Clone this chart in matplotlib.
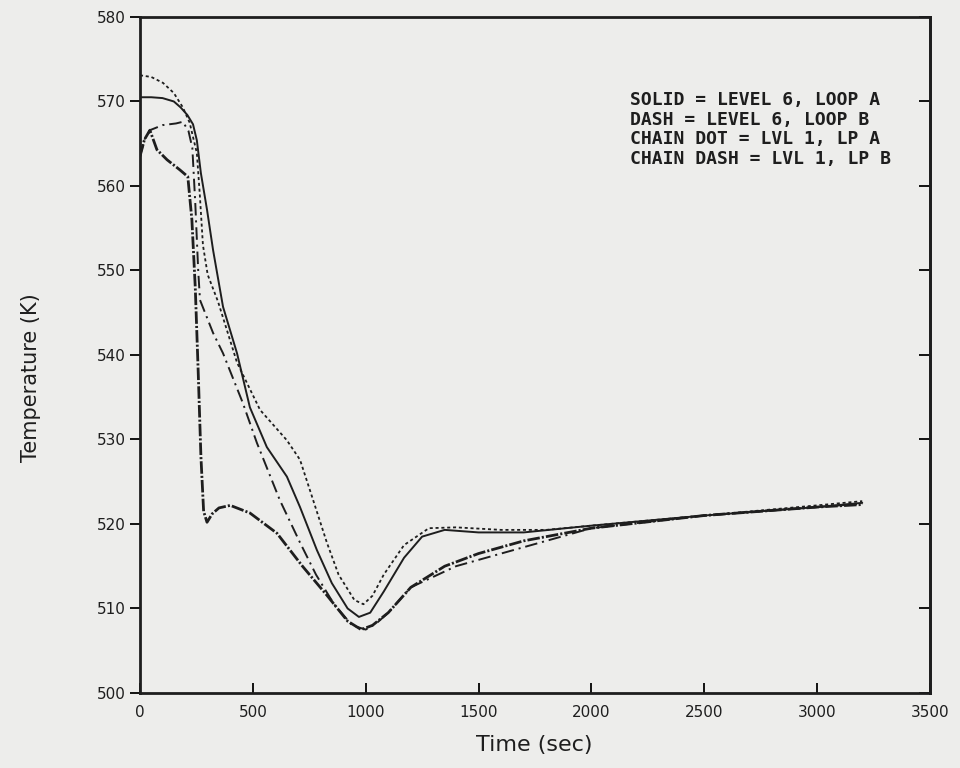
"""Coolant temperature transient, level 6 vs level 1 loops."""

import matplotlib
matplotlib.use("Agg")
import matplotlib.pyplot as plt

# --- data ---
t_solid = [0, 50, 100, 150, 180, 210, 235, 252, 270, 297, 324, 368, 430, 487,
           562, 651, 709, 784, 850, 920, 970, 1020, 1080, 1170, 1250, 1350,
           1500, 1700, 2000, 2500, 3000, 3200]
T_solid = [570.5, 570.5, 570.4, 570.0, 569.3, 568.4, 567.3, 565.4, 561.5, 557.2,
           552.4, 545.7, 540.2, 533.8, 529.1, 525.6, 522.0, 516.9, 513.0, 510.0,
           509.0, 509.5, 512.0, 516.0, 518.5, 519.3, 519.0, 519.0, 519.8, 521.0,
           522.0, 522.5]

t_dash = [0, 50, 102, 150, 190, 220, 235, 252, 265, 279, 300, 346, 430, 532,
          651, 709, 753, 828, 880, 950, 990, 1030, 1080, 1170, 1280, 1400, 1600,
          1800, 2000, 2500, 3000, 3200]
T_dash = [573.1, 572.9, 572.2, 571.0, 569.3, 567.5, 565.8, 563.9, 559.0, 553.0,
          549.5, 546.3, 539.1, 533.5, 529.9, 527.6, 524.0, 517.8, 514.0, 511.0,
          510.5, 511.5, 514.0, 517.5, 519.5, 519.6, 519.3, 519.3, 519.8, 521.0,
          522.2, 522.7]

t_cdot = [0, 20, 44, 75, 120, 177, 212, 230, 245, 258, 270, 282, 297, 320, 350,
          400, 487, 607, 720, 830, 920, 980, 1030, 1100, 1200, 1350, 1500, 1700,
          2000, 2500, 3000, 3200]
T_cdot = [563.5, 565.5, 566.6, 564.3, 563.1, 561.9, 561.1, 556.0, 548.0, 538.0,
          528.0, 521.5, 520.2, 521.2, 521.9, 522.2, 521.3, 518.9, 515.0, 511.5,
          508.5, 507.5, 508.0, 509.5, 512.5, 515.0, 516.5, 518.0, 519.5, 521.0,
          522.0, 522.3]

t_cdash = [0, 20, 44, 100, 160, 190, 215, 232, 245, 258, 266, 324, 368, 456,
           518, 620, 709, 780, 860, 940, 1000, 1050, 1100, 1200, 1400, 1600,
           1800, 2000, 2500, 3000, 3200]
T_cdash = [563.5, 565.5, 566.6, 567.2, 567.4, 567.6, 566.5, 564.5, 558.0, 550.0,
           546.5, 542.6, 540.2, 534.3, 529.6, 522.8, 517.8, 514.0, 510.5, 508.0,
           507.5, 508.3, 509.5, 512.5, 515.0, 516.5, 518.0, 519.5, 521.0, 522.0,
           522.4]

x_ticks = [0, 500, 1000, 1500, 2000, 2500, 3000, 3500]
y_ticks = [500, 510, 520, 530, 540, 550, 560, 570, 580]

legend_lines = [
    "SOLID = LEVEL 6, LOOP A",
    "DASH = LEVEL 6, LOOP B",
    "CHAIN DOT = LVL 1, LP A",
    "CHAIN DASH = LVL 1, LP B",
]

paper = "#ededeb"
ink = "#1e1e1e"

plt.rcParams["lines.scale_dashes"] = False

fig = plt.figure(figsize=(9.6, 7.68), dpi=100, facecolor=paper)
ax = fig.add_axes([0.1458, 0.0977, 0.8229, 0.8802], facecolor=paper)

ax.plot(t_solid, T_solid, color=ink, lw=1.4, solid_capstyle="round")
ax.plot(t_dash, T_dash, color=ink, lw=1.3, dashes=(2.2, 2.0))
ax.plot(t_cdot, T_cdot, color=ink, lw=2.0, dashes=(9, 1.5, 1.5, 1.5))
ax.plot(t_cdash, T_cdash, color=ink, lw=1.4, dashes=(9, 3.5, 1.5, 3.5))

ax.set_xlim(0, 3500)
ax.set_ylim(500, 580)
ax.set_xticks(x_ticks)
ax.set_yticks(y_ticks)
ax.set_xticklabels([str(v) for v in x_ticks], fontsize=11, color=ink)
ax.set_yticklabels([str(v) for v in y_ticks], fontsize=11, color=ink)

ax.tick_params(axis="x", direction="in", length=7, width=1.3, pad=9, top=False)
ax.tick_params(axis="y", direction="out", length=7, width=1.3, pad=3, right=False)
sec = ax.secondary_yaxis("right")
sec.set_yticks(y_ticks)
sec.tick_params(direction="in", length=8, width=1.3, labelright=False)
sec.spines["right"].set_linewidth(2.0)
sec.spines["right"].set_color(ink)

for s in ax.spines.values():
    s.set_linewidth(2.0)
    s.set_color(ink)

ax.text(0.62, 0.89, "\n".join(legend_lines), transform=ax.transAxes,
        family="DejaVu Sans Mono", fontsize=13, fontweight="bold",
        color=ink, va="top", ha="left", linespacing=1.1)

fig.text(0.557, 0.030, "Time (sec)", ha="center", va="center",
         fontsize=16, color=ink)
fig.text(0.032, 0.508, "Temperature (K)", ha="center", va="center",
         rotation=90, fontsize=15, color=ink)

fig.savefig("out.png", dpi=100, facecolor=paper)
